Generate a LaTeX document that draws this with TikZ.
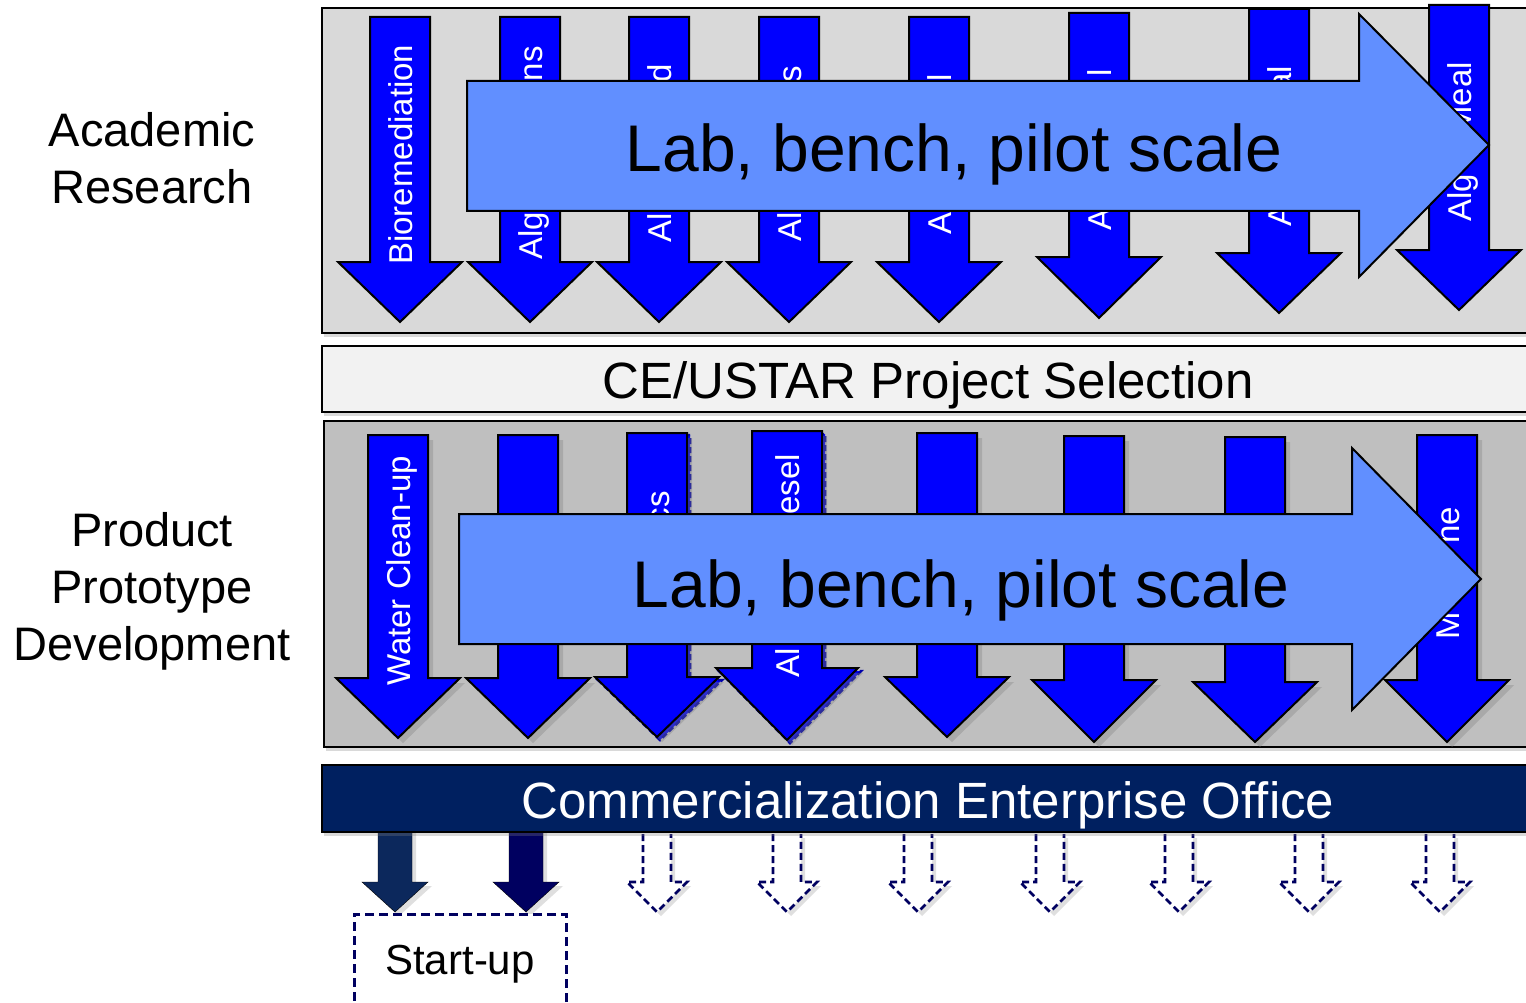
\documentclass[tikz,border=0pt]{standalone}
\usepackage{fontspec}
\setmainfont{Liberation Sans}
\usepackage{xcolor}
\definecolor{panelgray}{RGB}{217,217,217}
\definecolor{panelgraydark}{RGB}{191,191,191}
\definecolor{bandgray}{RGB}{242,242,242}
\definecolor{officenavy}{RGB}{0,32,96}
\definecolor{arrowblue}{RGB}{0,0,255}
\definecolor{ghostblue}{RGB}{0,0,170}
\definecolor{labblue}{RGB}{97,143,255}
\definecolor{startnavy}{RGB}{12,40,92}
\definecolor{startnavyb}{RGB}{0,0,96}
\definecolor{dashnavy}{RGB}{0,0,96}
\usepackage{tikz}
\usetikzlibrary{arrows.meta, positioning, shadows}

% half widths of shaft and head, changed locally where needed
\newcommand{\shafthw}{30}
\newcommand{\headhw}{62}
% down block arrow: [style]{x}{top}{neck}{tip}
\newcommand{\blockarrow}[5][]{%
  \draw[#1] (#2-\shafthw,#3) -- (#2+\shafthw,#3) -- (#2+\shafthw,#4) -- (#2+\headhw,#4)
    -- (#2,#5) -- (#2-\headhw,#4) -- (#2-\shafthw,#4) -- cycle;}

\begin{document}
\begin{tikzpicture}[x=1pt, y=-1pt, >=Stealth,
    panel/.style={draw=black, line width=2.5pt, drop shadow={shadow xshift=2pt, shadow yshift=-4pt, opacity=.3}},
    researchArrow/.style={fill=arrowblue, draw=black, line width=2pt},
    protoArrow/.style={researchArrow, drop shadow={shadow xshift=5pt, shadow yshift=-5pt, opacity=.35}},
    ghostArrow/.style={fill=arrowblue, draw=ghostblue, line width=2.5pt, dash pattern=on 6pt off 3pt},
    labArrow/.style={fill=labblue, draw=black, line width=2pt},
    armLabel/.style={text=white, font=\fontsize{33}{33}\selectfont, rotate=90, inner sep=0pt, text height=24pt, text depth=0pt},
    labText/.style={font=\fontsize{66}{66}\selectfont, anchor=base},
    bandText/.style={font=\fontsize{51}{51}\selectfont, anchor=base},
    sideText/.style={font=\fontsize{47}{57}\selectfont, align=center},
    hollowArrow/.style={fill=white, draw=dashnavy, line width=2.6pt, dash pattern=on 7pt off 4pt,
        drop shadow={shadow xshift=4pt, shadow yshift=-4pt, opacity=.25}},
    startArrow/.style={drop shadow={shadow xshift=4pt, shadow yshift=-4pt, opacity=.25}},
    startBox/.style={draw=dashnavy, fill=white, line width=3pt, dash pattern=on 9pt off 5pt,
        minimum width=212pt, minimum height=100pt, font=\fontsize{42}{42}\selectfont}]

    \clip (0,0) rectangle (1526,1003);

    % stage names on the left
    \node[sideText] (academic) at (152,158) {Academic\\Research};
    \node[sideText] (product) at (152,591) {Product\\Prototype\\Development};

    % academic research panel
    \path[panel, fill=panelgray] (322,8) rectangle (1540,333);
    \blockarrow[researchArrow]{400}{17}{262}{322}
    \blockarrow[researchArrow]{530}{17}{262}{322}
    \blockarrow[researchArrow]{659}{17}{262}{322}
    \blockarrow[researchArrow]{789}{17}{262}{322}
    \blockarrow[researchArrow]{939}{17}{262}{322}
    \blockarrow[researchArrow]{1099}{13}{257}{318}
    \blockarrow[researchArrow]{1279}{9}{253}{313}
    \blockarrow[researchArrow]{1459}{5}{250}{310}
    \node[armLabel, anchor=west] (bio) at (400,265) {Bioremediation};
    \node[armLabel, anchor=west] (a2lo) at (530,260) {Alg};
    \node[armLabel, anchor=east] (a2hi) at (530,46) {ns};
    \node[armLabel, anchor=west] (a3lo) at (659,243) {Al};
    \node[armLabel, anchor=east] (a3hi) at (659,64) {d};
    \node[armLabel, anchor=west] (a4lo) at (789,242) {Al};
    \node[armLabel, anchor=east] (a4hi) at (789,66) {s};
    \node[armLabel, anchor=west] (a5lo) at (939,235) {A};
    \node[armLabel, anchor=east] (a5hi) at (939,74) {l};
    \node[armLabel, anchor=west] (a6lo) at (1099,231) {A};
    \node[armLabel, anchor=east] (a6hi) at (1099,69) {l};
    \node[armLabel, anchor=west] (a7lo) at (1279,227) {A};
    \node[armLabel, anchor=east] (a7hi) at (1279,66) {al};
    \node[armLabel, anchor=west] (a8lo) at (1459,222) {Alg};
    \node[armLabel, anchor=east] (a8hi) at (1459,62) {Meal};
    \draw[labArrow] (467,81) -- (1359,81) -- (1359,14) -- (1489,145) -- (1359,277) -- (1359,211) -- (467,211) -- cycle;
    \node[labText] (labtop) at (954,172) {Lab, bench, pilot scale};

    % selection band
    \path[panel, fill=bandgray] (322,346) rectangle (1534,412);
    \node[bandText] (selection) at (928,398) {CE/USTAR Project Selection};

    % prototype panel
    \path[panel, fill=panelgraydark] (324,421) rectangle (1540,747);
    \blockarrow[protoArrow]{398}{435}{678}{738}
    \blockarrow[protoArrow]{528}{435}{678}{738}
    \blockarrow[ghostArrow]{660}{435}{680}{740}
    \blockarrow[protoArrow]{657}{433}{677}{737}
    {\renewcommand{\shafthw}{35}\renewcommand{\headhw}{71}
     \blockarrow[ghostArrow]{790}{434}{671}{743}
     \blockarrow[protoArrow]{787}{431}{668}{740}}
    \blockarrow[protoArrow]{947}{433}{677}{737}
    \blockarrow[protoArrow]{1094}{436}{680}{742}
    \blockarrow[protoArrow]{1255}{437}{682}{742}
    \blockarrow[protoArrow]{1447}{435}{680}{742}
    \node[armLabel, anchor=west] (water) at (398,686) {Water Clean-up};
    \node[armLabel, anchor=east] (b3hi) at (657,491) {cs};
    \node[armLabel, anchor=east] (b4hi) at (787,454) {esel};
    \node[armLabel, anchor=west] (b4lo) at (787,678) {Al};
    \node[armLabel, anchor=east] (b8hi) at (1447,507) {ne};
    \node[armLabel, anchor=west] (b8lo) at (1447,640) {M};
    \draw[labArrow] (459,514) -- (1352,514) -- (1352,448) -- (1481,579) -- (1352,710) -- (1352,644) -- (459,644) -- cycle;
    \node[labText] (labbottom) at (961,607) {Lab, bench, pilot scale};

    % commercialization office and its outputs
    {\renewcommand{\shafthw}{17}\renewcommand{\headhw}{33}
     \blockarrow[startArrow, fill=startnavy]{395}{828}{882}{912}
     \blockarrow[startArrow, fill=startnavyb]{526}{828}{882}{912}}
    \foreach \x in {657,787,918,1050,1179,1309,1440}
        \draw[hollowArrow] (\x-14,834) -- (\x-14,882) -- (\x-30,882) -- (\x,912) -- (\x+30,882) -- (\x+14,882) -- (\x+14,834);
    \path[panel, fill=officenavy] (322,765) rectangle (1534,832);
    \node[bandText, text=white] (office) at (928,818) {Commercialization Enterprise Office};
    \node[startBox] (startup) at (460,964) {Start-up};
\end{tikzpicture}
\end{document}
